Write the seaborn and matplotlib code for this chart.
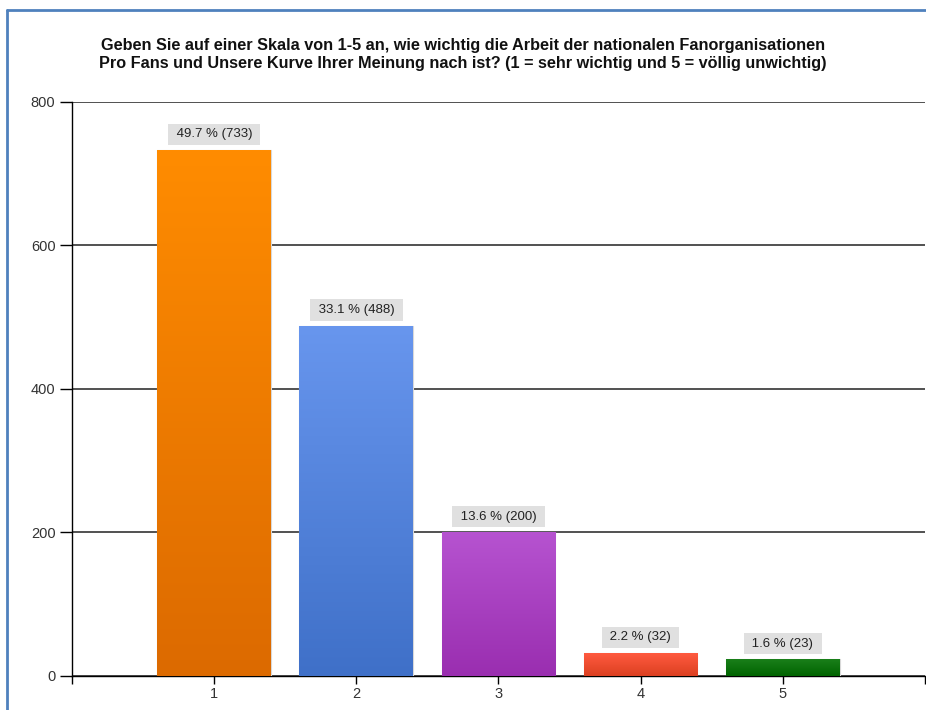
import numpy as np
import pandas as pd
import matplotlib
matplotlib.use('Agg')
import matplotlib.pyplot as plt
import matplotlib.colors as mcolors
from matplotlib.lines import Line2D
import seaborn as sns

# Daten aus dem Diagramm
kategorien = ['1', '2', '3', '4', '5']
anzahl = [733, 488, 200, 32, 23]
prozent = [49.7, 33.1, 13.6, 2.2, 1.6]
farben_oben = ['#ff8c00', '#6896ee', '#b653d0', '#ff5a40', '#1a7f1a']
farben_unten = ['#dc6a00', '#3f70c8', '#9a2eb0', '#dc4020', '#006400']

titel = ('Geben Sie auf einer Skala von 1-5 an, wie wichtig die Arbeit der nationalen Fanorganisationen\n'
         'Pro Fans und Unsere Kurve Ihrer Meinung nach ist? (1 = sehr wichtig und 5 = völlig unwichtig)')

sns.set_style('white')
plt.rcParams['font.family'] = ['Liberation Sans', 'DejaVu Sans']

df = pd.DataFrame({'kat': kategorien, 'n': anzahl})

fig = plt.figure(figsize=(9.26, 7.10), dpi=100)
ax = fig.add_axes([0.0778, 0.0479, 0.921, 0.8085])

sns.barplot(data=df, x='kat', y='n', hue='kat', palette=farben_oben, legend=False,
            width=0.8, ax=ax, edgecolor='#d8d8d8', linewidth=0.8, zorder=3)

# x-Achse: Kategorien bei 1..5, Bereich 0..6
ax.set_xlim(-1, 5)
ax.set_ylim(0, 800)
ax.set_yticks([0, 200, 400, 600, 800])
ax.set_xticks(range(-1, 6))
ax.set_xticklabels([''] + kategorien + [''])
ax.set_xlabel('')
ax.set_ylabel('')

# Farbverlauf in den Balken
for i, p in enumerate(ax.patches):
    x0, y0 = p.get_x(), p.get_y()
    w, h = p.get_width(), p.get_height()
    cmap = mcolors.LinearSegmentedColormap.from_list('g', [farben_unten[i], farben_oben[i]])
    grad = np.linspace(0, 1, 256).reshape(-1, 1)
    im = ax.imshow(grad, extent=[x0, x0 + w, y0, y0 + h], origin='lower',
                   aspect='auto', cmap=cmap, zorder=3.5)
    im.set_clip_path(p)

# Beschriftungen ueber den Balken
for i, (n, pz) in enumerate(zip(anzahl, prozent)):
    ax.text(i, n + 22, f' {pz} % ({n}) ', ha='center', va='center', fontsize=9.5,
            color='#222222', zorder=5,
            bbox=dict(boxstyle='square,pad=0.35', fc='#e0e0e0', ec='none'))

# Gitterlinien
ax.yaxis.grid(True, color='#333333', linewidth=1.2, zorder=1)
ax.set_axisbelow(True)
for s in ['top', 'right']:
    ax.spines[s].set_visible(False)
ax.spines['left'].set_color('black')
ax.spines['bottom'].set_color('black')
ax.spines['left'].set_linewidth(1.0)
ax.spines['bottom'].set_linewidth(1.0)
ax.tick_params(axis='y', direction='out', length=9, width=1, pad=3,
               color='black', labelsize=10.5, labelcolor='#333333', left=True)
ax.tick_params(axis='x', direction='out', length=6, width=1, pad=2,
               color='black', labelsize=10.5, labelcolor='#333333', bottom=True)

fig.suptitle(titel, y=0.947, fontsize=11.7, fontweight='bold', color='#111111', linespacing=1.3)

# blauer Rahmen links und oben
fig.add_artist(Line2D([0.0076, 0.0076], [0, 0.986], color='#4f81bd', linewidth=2))
fig.add_artist(Line2D([0.0076, 1.0], [0.986, 0.986], color='#4f81bd', linewidth=2))

plt.savefig('out.png', dpi=100)
plt.close()
